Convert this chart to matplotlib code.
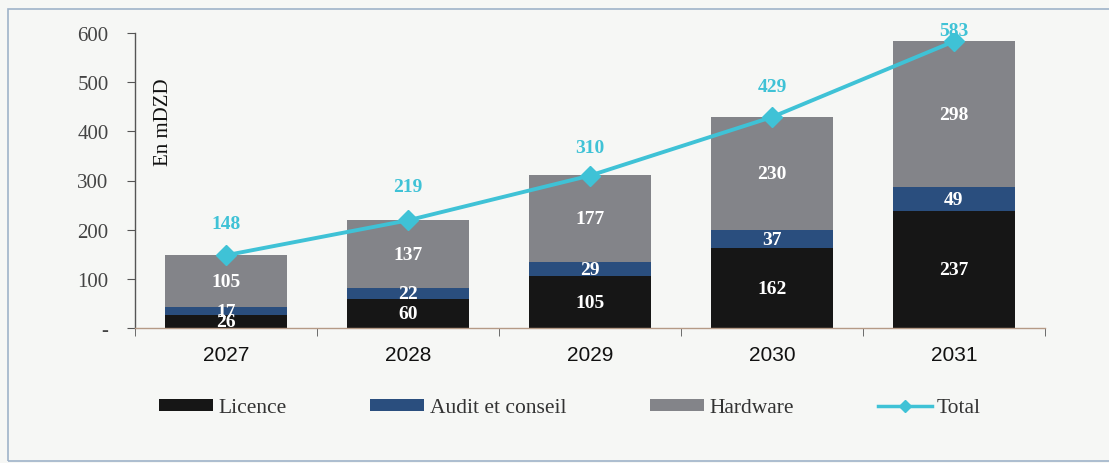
import matplotlib
matplotlib.use("Agg")
import matplotlib.pyplot as plt
from matplotlib.patches import Rectangle
from matplotlib.lines import Line2D
import numpy as np

years = ["2027", "2028", "2029", "2030", "2031"]
licence = [26, 60, 105, 162, 237]
audit = [17, 22, 29, 37, 49]
hardware = [105, 137, 177, 230, 298]
total = [148, 219, 310, 429, 583]
total_label_offsets = [17, 18, 14, 16, 2]  # points above marker

c_lic = "#161616"
c_aud = "#2a4e7e"
c_hw = "#838489"
c_tot = "#3fc2d6"
bg = "#f6f7f5"

serif = ["Liberation Serif", "DejaVu Serif"]
sans = ["Liberation Sans", "DejaVu Sans"]

fig = plt.figure(figsize=(11.09, 4.64), dpi=100, facecolor=bg)
W, H = 1109, 464
ax = fig.add_axes([135 / W, 1 - 329 / H, (1045 - 135) / W, (329 - 34) / H])
ax.set_facecolor(bg)

# figure border
fig.patches.append(Rectangle((8 / W, 1 - 462 / H), (1120 - 8) / W, (462 - 10) / H,
                             transform=fig.transFigure, fill=False,
                             edgecolor="#9fb3c9", linewidth=1.2))

x = np.arange(len(years))
bw = 0.67
b1 = ax.bar(x, licence, bw, color=c_lic, label="Licence")
b2 = ax.bar(x, audit, bw, bottom=licence, color=c_aud, label="Audit et conseil")
bottom2 = np.array(licence) + np.array(audit)
b3 = ax.bar(x, hardware, bw, bottom=bottom2, color=c_hw, label="Hardware")
ln, = ax.plot(x, total, color=c_tot, lw=2.8, marker="D", markersize=10,
              label="Total", zorder=5)

for bars, vals in [(b1, licence), (b2, audit), (b3, hardware)]:
    ax.bar_label(bars, labels=[str(v) for v in vals], label_type="center",
                 color="white", fontweight="bold", fontsize=14,
                 fontfamily=serif)

for xi, t, off in zip(x, total, total_label_offsets):
    ax.annotate(str(t), (xi, t), xytext=(0, off), textcoords="offset points",
                ha="center", va="bottom", color=c_tot, fontweight="bold",
                fontsize=14, fontfamily=serif)

ax.set_xlim(-0.5, 4.5)
ax.set_ylim(0, 600)
ax.set_yticks([0, 100, 200, 300, 400, 500, 600])
ax.set_yticklabels(["-", "100", "200", "300", "400", "500", "600"],
                   fontfamily=serif, fontsize=15, color="#444444")
ax.set_xticks(x)
ax.set_xticklabels(years, fontfamily=sans, fontsize=15, color="#111111")
ax.set_xticks(np.arange(-0.5, 5, 1), minor=True)
ax.tick_params(axis="x", which="major", length=0, pad=12)
ax.tick_params(axis="x", which="minor", length=6, color="#555555", direction="out")
ax.tick_params(axis="y", length=6, color="#555555", direction="out", pad=13)

for s in ["top", "right"]:
    ax.spines[s].set_visible(False)
ax.spines["left"].set_color("#555555")
ax.spines["left"].set_linewidth(1.0)
ax.spines["bottom"].set_color("#b59a86")
ax.spines["bottom"].set_linewidth(1.0)

ax.text(0.031, 0.70, "En mDZD", transform=ax.transAxes, rotation=90,
        ha="center", va="center", fontfamily=serif, fontsize=15, color="#111111")

leg = fig.legend(handles=[b1, b2, b3, ln], loc="center", ncol=4,
                 bbox_to_anchor=(570 / W, 1 - 409 / H), frameon=False,
                 prop={"family": serif, "size": 15.5},
                 handlelength=2.5, handleheight=0.45, handletextpad=0.25,
                 columnspacing=3.9)
for t in leg.get_texts():
    t.set_color("#333333")
for h in leg.legend_handles:
    if isinstance(h, Line2D):
        h.set_markersize(6)
        h.set_linewidth(2.5)

fig.savefig("out.png", dpi=100, facecolor=bg)
